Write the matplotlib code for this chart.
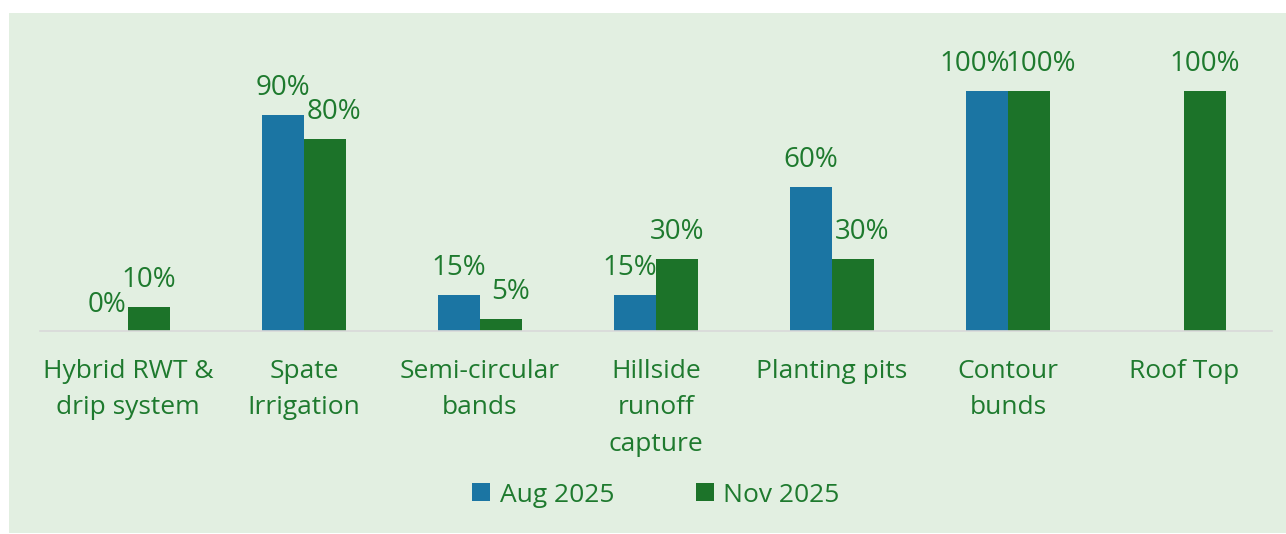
import numpy as np
import matplotlib
matplotlib.use("Agg")
import matplotlib.pyplot as plt
from matplotlib.patches import Rectangle

categories = ["Hybrid RWT &\ndrip system", "Spate\nIrrigation", "Semi-circular\nbands",
              "Hillside\nrunoff\ncapture", "Planting pits", "Contour\nbunds", "Roof Top"]
aug_2025 = [0, 90, 15, 15, 60, 100, np.nan]
nov_2025 = [10, 80, 5, 30, 30, 100, 100]
series_names = ["Aug 2025", "Nov 2025"]

BLUE = "#1B75A3"
GREEN = "#1C7329"
TEXT = "#1E7A2E"
BG = "#E2EFE1"
FS = 19
LFS = 20

plt.rcParams['font.family'] = ['Open Sans', 'DejaVu Sans']

fig = plt.figure(figsize=(12.86, 5.34), dpi=100, facecolor="white")
fig.patches.append(Rectangle((9/1286, 1/534), 1 - 9/1286, (534 - 14)/534,
                             transform=fig.transFigure, facecolor=BG, edgecolor="none", zorder=-10))

ax = fig.add_axes([40/1286, (534-331)/534, (1272-40)/1286, (331-41)/534])
ax.set_facecolor("none")

x = np.arange(len(categories))
w = 0.24
b1 = ax.bar(x - w/2, aug_2025, w, color=BLUE, label=series_names[0], zorder=2)
b2 = ax.bar(x + w/2, nov_2025, w, color=GREEN, label=series_names[1], zorder=2)

# label placement: push apart labels that would collide (as the source chart does)
for i, (a, n) in enumerate(zip(aug_2025, nov_2025)):
    dx_a, dx_n = 0.0, 0.0
    if not np.isnan(a) and not np.isnan(n) and min(a, n) > 0 and abs(a - n) <= 30:
        if a == n:
            dx_a, dx_n = -8.5, 8.5
        elif a > n:
            dx_n = 6.5
        else:
            dx_a = -3.5
    for rect, v, dx in ((b1[i], a, dx_a), (b2[i], n, dx_n)):
        if np.isnan(v):
            continue
        ax.annotate(f"{v:g}%", (rect.get_x() + rect.get_width()/2, v),
                    xytext=(dx, 9), textcoords="offset points", ha="center", va="bottom",
                    fontsize=LFS, color=TEXT)

ax.set_xlim(-0.5, len(categories) - 0.5)
ax.set_ylim(0, 120.8)
ax.set_yticks([])
ax.set_xticks(x)
ax.set_xticklabels(categories, fontsize=FS, color=TEXT, linespacing=1.6)
ax.tick_params(axis="x", length=0, pad=20)
for s in ["top", "right", "left"]:
    ax.spines[s].set_visible(False)
ax.spines["bottom"].set_color("#D9D9D9")
ax.spines["bottom"].set_linewidth(1.2)

leg = fig.legend(handles=[b1, b2], labels=series_names, loc="center",
                 bbox_to_anchor=(656/1286, 1 - 495/534), ncol=2, frameon=False,
                 fontsize=FS, handlelength=0.68, handleheight=0.68, handletextpad=0.35,
                 columnspacing=3.1)
for t in leg.get_texts():
    t.set_color(TEXT)

fig.savefig("out.png", dpi=100, facecolor="white")
